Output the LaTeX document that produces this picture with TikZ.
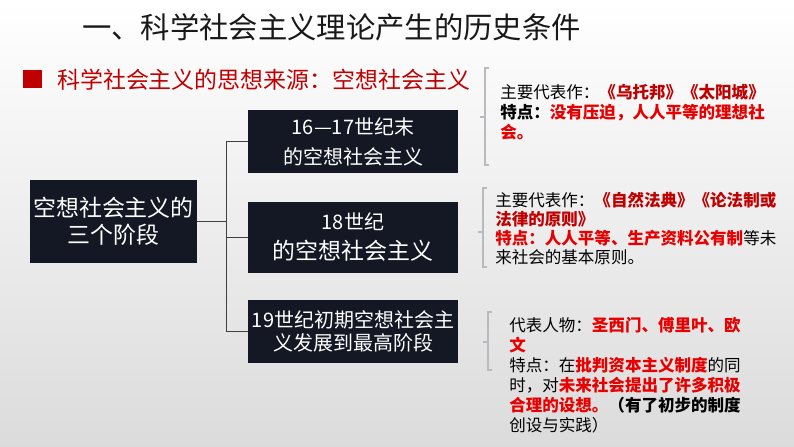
\documentclass[tikz,border=0pt]{standalone}
\usepackage{fontspec}
\setmainfont{Noto Sans CJK SC}
\usetikzlibrary{calc}
\definecolor{dred}{RGB}{192,0,0}
\definecolor{bred}{RGB}{232,0,0}
\definecolor{boxc}{RGB}{20,24,36}
\definecolor{linec}{RGB}{64,64,64}
\definecolor{brk}{RGB}{185,185,190}
\newcommand{\hlr}[1]{{\bfseries\color{bred}#1}}
\newcommand{\hld}[1]{{\bfseries\color{dred}#1}}
\newcommand{\hlk}[1]{{\bfseries #1}}
\begin{document}
\begin{tikzpicture}[x=0.75pt,y=-0.75pt,
  stagebox/.style={fill=boxc,text=white,inner sep=0pt,align=center,minimum width=157.5pt},
  txt/.style={anchor=base west,inner sep=0pt,font=\fontsize{12.4pt}{15pt}\selectfont},
  brkline/.style={draw=brk,line width=0.8pt},
  conn/.style={draw=linec,line width=0.9pt}]
\useasboundingbox (0,0) rectangle (794,447);
\shade[top color=white,bottom color=black!14] (0,0) rectangle (794,447);
% title
\node[anchor=base west,inner sep=0pt,font=\fontsize{22pt}{26pt}\selectfont,text=black!90] (title) at (82,38.6) {一、科学社会主义理论产生的历史条件};
\node[fill=dred,minimum width=14pt,minimum height=13.5pt,inner sep=0pt] (sq) at (32.5,79) {};
\node[anchor=base west,inner sep=0pt,font=\fontsize{17.2pt}{20pt}\selectfont,text=dred] (sub) at (57,88.7) {科学社会主义的思想来源：空想社会主义};
% boxes
\node[stagebox,minimum width=125.25pt,minimum height=62.25pt,font=\fontsize{17.2pt}{20.25pt}\selectfont] (main) at (113.5,221.5) {空想社会主义的\\三个阶段};
\node[stagebox,minimum height=47.25pt,font=\fontsize{15pt}{22.5pt}\selectfont] (b1) at (353,141.5) {16—17世纪末\\的空想社会主义};
\node[stagebox,minimum height=53.25pt,font=\fontsize{15pt}{22.5pt}\selectfont] (b2) at (353,237.5) {18世纪\\{\fontsize{17.2pt}{22.5pt}\selectfont 的空想社会主义}};
\node[stagebox,minimum height=47.25pt,font=\fontsize{15pt}{17.25pt}\selectfont] (b3) at (353,331.5) {19世纪初期空想社会主\\义发展到最高阶段};
% connectors
\coordinate (j) at ($(main.east)+(29,0)$);
\draw[conn] (main.east) -- (j);
\draw[conn] (j) |- (b1.west);
\draw[conn] (j) |- (b3.west);
\draw[conn] (j |- b2.west) -- (b2.west);
% brackets
\draw[brkline] (489,68) -- (485,68) -- (485,165) -- (489,165);
\draw[brkline] (485,117) -- (480,117);
\draw[brkline] (487,188) -- (483,188) -- (483,267) -- (487,267);
\draw[brkline] (483,232) -- (478,232);
\draw[brkline] (492,312) -- (488,312) -- (488,370) -- (492,370);
\draw[brkline] (488,342) -- (483,342);
% block 1
\node[txt] (a1) at (500,98) {主要代表作：\hld{《乌托邦》《太阳城》}};
\node[txt] (a2) at (500,118) {\hlk{特点：}\hlr{没有压迫，人人平等的理想社}};
\node[txt] (a3) at (500,138) {\hlr{会。}};
% block 2
\node[txt] (c1) at (495,206) {主要代表作：\hld{《自然法典》《论法制或}};
\node[txt] (c2) at (495,225) {\hld{法律的原则》}};
\node[txt] (c3) at (495,244) {\hlr{特点：人人平等、生产资料公有制}等未};
\node[txt] (c4) at (495,263) {来社会的基本原则。};
% block 3
\node[txt] (d1) at (509,331) {代表人物：\hlr{圣西门、傅里叶、欧}};
\node[txt] (d2) at (509,351) {\hlr{文}};
\node[txt] (d3) at (509,371) {特点：在\hlr{批判资本主义制度}的同};
\node[txt] (d4) at (509,391) {时，对\hlr{未来社会提出了许多积极}};
\node[txt] (d5) at (509,411) {\hlr{合理的设想。}\hlk{（有了初步的制度}};
\node[txt] (d6) at (509,431) {创设与实践）};
\end{tikzpicture}
\end{document}
